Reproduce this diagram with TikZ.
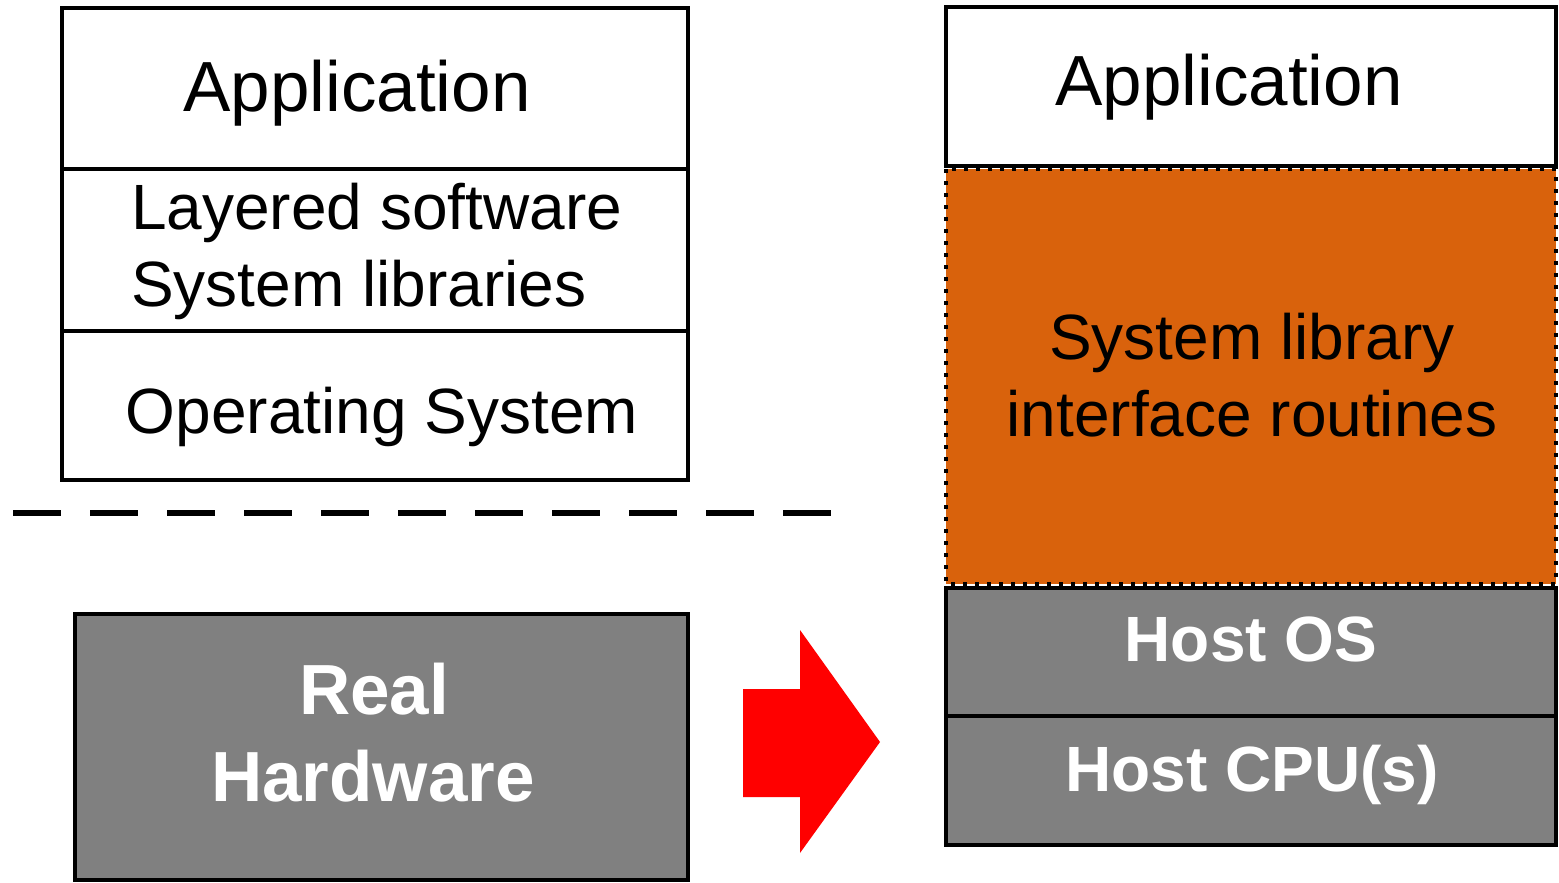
\documentclass[tikz,border=0pt]{standalone}
\usepackage{fontspec}
\setmainfont{Liberation Sans}
\definecolor{layerorange}{RGB}{217,98,12}
\definecolor{layergray}{RGB}{128,128,128}
\begin{document}
\begin{tikzpicture}[x=1pt,y=-1pt,
  layerbox/.style={draw=black,line width=4.5pt,rectangle,inner sep=0pt,outer sep=0pt,anchor=north west},
  big/.style={font=\fontsize{71}{87}\selectfont,inner sep=0pt,anchor=base},
  mid/.style={font=\fontsize{64}{77}\selectfont,inner sep=0pt,anchor=base},
  bigb/.style={font=\fontsize{71}{87}\selectfont\bfseries,text=white,inner sep=0pt,anchor=base},
  midb/.style={font=\fontsize{64}{77}\selectfont\bfseries,text=white,inner sep=0pt,anchor=base}]
\useasboundingbox (0,0) rectangle (1559,883);
% left stack
\node[layerbox,minimum width=626pt,minimum height=161pt] (lapp) at (62,8) {};
\node[layerbox,minimum width=626pt,minimum height=162pt] (llib) at (62,169) {};
\node[layerbox,minimum width=626pt,minimum height=149pt] (los) at (62,331) {};
\node[big] (lappt) at (357,111) {Application};
\node[mid,anchor=base west] (llibt1) at (131,229) {Layered software};
\node[mid,anchor=base west] (llibt2) at (131,306) {System libraries};
\node[mid] (lost) at (382,433) {Operating System};
% dashed separator
\coordinate (dl) at (13,513);
\coordinate (dr) at (832,513);
\draw[line width=5.5pt,dash pattern=on 48pt off 29pt] (dl) -- (dr);
% real hardware
\node[layerbox,fill=layergray,minimum width=613pt,minimum height=266pt] (hw) at (75,614) {};
\node[bigb] (hwt1) at (374,714) {Real};
\node[bigb] (hwt2) at (373,801) {Hardware};
% red arrow
\fill[red] (743,689) -- (800,689) -- (800,630) -- (880,742) -- (800,853) -- (800,797) -- (743,797) -- cycle;
% right stack
\node[layerbox,minimum width=610pt,minimum height=159pt] (rapp) at (946,7) {};
\node[big] (rappt) at (1229,106) {Application};
\node[rectangle,fill=layerorange,inner sep=0pt,outer sep=0pt,anchor=north west,minimum width=610pt,minimum height=415pt] (lib) at (946,169) {};
\draw[line width=4pt,dash pattern=on 4pt off 8pt] (lib.north west) rectangle (lib.south east);
\node[mid] (libt1) at (1252,359) {System library};
\node[mid] (libt2) at (1252,436) {interface routines};
\node[layerbox,fill=layergray,minimum width=610pt,minimum height=128pt] (hos) at (946,588) {};
\node[layerbox,fill=layergray,minimum width=610pt,minimum height=129pt] (hcpu) at (946,716) {};
\node[midb] (host) at (1251,661) {Host OS};
\node[midb] (hcput) at (1252,791) {Host CPU(s)};
\end{tikzpicture}
\end{document}
